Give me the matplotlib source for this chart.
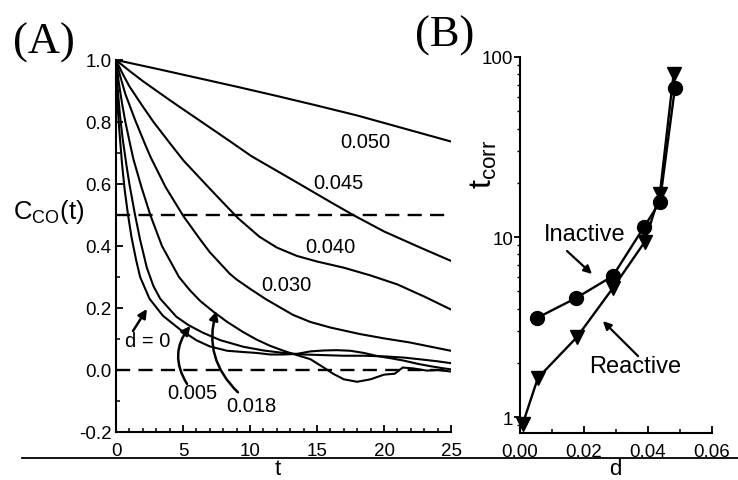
import matplotlib
matplotlib.use("Agg")
import matplotlib.pyplot as plt
from matplotlib.lines import Line2D
from matplotlib.ticker import MultipleLocator, FormatStrFormatter, LogLocator, NullFormatter, FixedLocator

plt.rcParams['font.family'] = ['Liberation Sans', 'DejaVu Sans']
plt.rcParams['axes.unicode_minus'] = False
plt.rcParams['mathtext.fontset'] = 'custom'
plt.rcParams['mathtext.rm'] = 'Liberation Sans'
plt.rcParams['mathtext.it'] = 'Liberation Sans'

# ---------------- Panel A data: C_CO(t) for several d ----------------
t_d050 = [0, 3, 6, 9, 12, 15, 18, 21, 25]
c_d050 = [1.0, 0.972, 0.943, 0.914, 0.884, 0.853, 0.821, 0.785, 0.737]

t_d045 = [0, 1, 2, 3.8, 4.7, 6.3, 8.5, 10.1, 13.7, 16, 17.7, 20, 22.7, 25]
c_d045 = [1.0, 0.965, 0.932, 0.877, 0.85, 0.803, 0.738, 0.69, 0.6, 0.542, 0.5, 0.447, 0.395, 0.352]

t_d040 = [0, 0.5, 1, 2, 2.8, 4.05, 5.05, 7.0, 8.1, 9.1, 10.7, 12, 13.5, 15, 17, 19, 21, 23, 25]
c_d040 = [1.0, 0.955, 0.915, 0.85, 0.8, 0.73, 0.675, 0.585, 0.535, 0.49, 0.43, 0.395, 0.368,
          0.35, 0.33, 0.305, 0.276, 0.237, 0.195]

t_d030 = [0, 0.3, 0.7, 1.44, 2.2, 2.6, 3.7, 5.05, 6.3, 7.0, 8.5, 9.0, 10, 11.2, 13.2, 14.5, 16,
          18.2, 20, 21.9, 23.5, 25]
c_d030 = [1.0, 0.95, 0.89, 0.805, 0.725, 0.685, 0.59, 0.495, 0.42, 0.38, 0.31, 0.292, 0.262,
          0.228, 0.178, 0.155, 0.137, 0.116, 0.102, 0.089, 0.075, 0.062]

t_d018 = [0, 0.2, 0.45, 0.7, 1.07, 1.3, 1.9, 2.56, 3.43, 4.7, 5.5, 6.3, 7.3, 8.3, 9.5, 10.5, 11.5,
          12.5, 13.2, 14.5, 15.5, 16.2, 17, 18, 19, 20, 20.8, 21.4, 22.2, 23.2, 24, 25]
c_d018 = [1.0, 0.93, 0.86, 0.8, 0.725, 0.68, 0.59, 0.5, 0.4, 0.3, 0.258, 0.222, 0.187, 0.155,
          0.122, 0.098, 0.078, 0.062, 0.052, 0.035, 0.008, -0.012, -0.03, -0.038, -0.03,
          -0.015, -0.012, 0.008, 0.005, -0.002, 0.0, -0.005]

t_d005 = [0, 0.1, 0.3, 0.5, 0.8, 1.0, 1.4, 1.8, 2.3, 2.8, 3.3, 4.5, 5.4, 6.5, 7.8, 9.5, 11,
          12.5, 14, 15.5, 17, 18.5, 20, 21.5, 23, 24, 25]
c_d005 = [1.0, 0.92, 0.82, 0.745, 0.655, 0.6, 0.505, 0.42, 0.33, 0.27, 0.23, 0.172, 0.145, 0.12,
          0.096, 0.075, 0.063, 0.055, 0.05, 0.048, 0.046, 0.046, 0.044, 0.04, 0.033, 0.028, 0.022]

t_d000 = [0, 0.05, 0.2, 0.3, 0.45, 0.65, 0.9, 1.15, 1.5, 1.8, 2.5, 3.5, 4.8, 6.0, 7.0, 8.3,
          9.5, 10.5, 11.5, 12.5, 13.5, 14.5, 15.5, 16.5, 17.5, 18.5, 19.5, 20.5, 21.5, 22.5,
          23.5, 24.5, 25]
c_d000 = [1.0, 0.9, 0.8, 0.745, 0.665, 0.58, 0.5, 0.43, 0.355, 0.3, 0.23, 0.175, 0.13, 0.096,
          0.076, 0.062, 0.058, 0.055, 0.05, 0.05, 0.052, 0.06, 0.063, 0.064, 0.062, 0.055, 0.045,
          0.038, 0.03, 0.02, 0.012, 0.005, 0.002]

ref_levels = [0.5, 0.0]

curve_labels = ["0.050", "0.045", "0.040", "0.030"]
curve_label_pos = [(18.6, 0.738), (16.6, 0.606), (16.0, 0.397), (12.7, 0.277)]

# ---------------- Panel B data: t_corr vs d ----------------
d_inactive = [0.0053, 0.0175, 0.029, 0.0388, 0.0437, 0.0484]
t_inactive = [3.55, 4.58, 6.07, 11.4, 15.6, 67.0]
d_reactive = [0.0008, 0.0056, 0.0178, 0.029, 0.039, 0.0437, 0.048]
t_reactive = [0.91, 1.65, 2.78, 5.2, 9.4, 17.3, 80.5]

W, H = 738, 481
fig = plt.figure(figsize=(W / 100, H / 100), dpi=100)

# ================= Panel A =================
ax = fig.add_axes([116 / W, (H - 433) / H, 335 / W, 372 / H])
lw = 1.5
for tt, cc in [(t_d050, c_d050), (t_d045, c_d045), (t_d040, c_d040), (t_d030, c_d030),
               (t_d018, c_d018), (t_d005, c_d005), (t_d000, c_d000)]:
    ax.plot(tt, cc, color='black', lw=lw, solid_joinstyle='round')
for lev in ref_levels:
    ax.plot([0, 25], [lev, lev], color='black', lw=1.7, dashes=(6, 3.5))

ax.set_xlim(0, 25)
ax.set_ylim(-0.2, 1.0)
for s in ['top', 'right']:
    ax.spines[s].set_visible(False)
for s in ['left', 'bottom']:
    ax.spines[s].set_linewidth(1.5)
ax.xaxis.set_major_locator(MultipleLocator(5))
ax.xaxis.set_minor_locator(MultipleLocator(1))
ax.yaxis.set_major_locator(MultipleLocator(0.2))
ax.yaxis.set_minor_locator(MultipleLocator(0.1))
ax.yaxis.set_major_formatter(FormatStrFormatter('%.1f'))
ax.tick_params(which='major', direction='in', length=5, width=1.3, labelsize=13.5)
ax.tick_params(which='minor', direction='in', length=3, width=1.1)
ax.tick_params(axis='x', pad=7)
ax.tick_params(axis='y', pad=3)

for lab, (x, y) in zip(curve_labels, curve_label_pos):
    ax.text(x, y, lab, fontsize=14.5, ha='center', va='center')

ax.text(2.35, 0.094, "d = 0", fontsize=14.5, ha='center', va='center')
ax.annotate("", xy=(2.31, 0.197), xytext=(1.27, 0.126),
            arrowprops=dict(arrowstyle='-|>', lw=1.8, color='black', mutation_scale=13,
                            shrinkA=0, shrinkB=0))
ax.text(5.7, -0.074, "0.005", fontsize=14.5, ha='center', va='center')
ax.annotate("", xy=(5.55, 0.142), xytext=(5.3, -0.045),
            arrowprops=dict(arrowstyle='-|>', lw=1.8, color='black', mutation_scale=13,
                            shrinkA=0, shrinkB=0, connectionstyle='arc3,rad=-0.35'))
ax.text(10.1, -0.116, "0.018", fontsize=14.5, ha='center', va='center')
ax.annotate("", xy=(7.5, 0.19), xytext=(9.1, -0.072),
            arrowprops=dict(arrowstyle='-|>', lw=1.8, color='black', mutation_scale=13,
                            shrinkA=0, shrinkB=0, connectionstyle='arc3,rad=-0.3'))

fig.text(13 / W, 1 - 212 / H, r'$\mathregular{C_{CO}(t)}$', fontsize=18.5, ha='left', va='center')
fig.text(13 / W, 1 - 43 / H, "(A)", fontsize=32, family='Liberation Serif', ha='left', va='center')

# ================= Panel B =================
bx = fig.add_axes([520 / W, (H - 434) / H, 192 / W, 376 / H])
bx.set_yscale('log')
bx.plot(d_reactive, t_reactive, color='black', lw=1.7, marker='v', markersize=10, clip_on=False)
bx.plot(d_inactive, t_inactive, color='black', lw=1.7, marker='o', markersize=10, clip_on=False)
bx.set_xlim(0, 0.06)
bx.set_ylim(0.815, 100)
for s in ['top', 'right']:
    bx.spines[s].set_visible(False)
for s in ['left', 'bottom']:
    bx.spines[s].set_linewidth(1.5)
bx.xaxis.set_major_locator(MultipleLocator(0.02))
bx.xaxis.set_minor_locator(MultipleLocator(0.01))
bx.xaxis.set_major_formatter(FormatStrFormatter('%.2f'))
bx.yaxis.set_major_locator(FixedLocator([1, 10, 100]))
bx.yaxis.set_major_formatter(FormatStrFormatter('%d'))
bx.yaxis.set_minor_locator(LogLocator(base=10, subs=range(2, 10)))
bx.yaxis.set_minor_formatter(NullFormatter())
bx.tick_params(axis='x', which='major', direction='in', length=5, width=1.3, labelsize=13.5, pad=7)
bx.tick_params(axis='x', which='minor', direction='in', length=3, width=1.1)
bx.tick_params(axis='y', which='major', direction='out', length=4, width=1.3, labelsize=13.5, pad=1)
bx.tick_params(axis='y', which='minor', direction='out', length=2.5, width=1.0)

bx.text(0.0203, 10.4, "Inactive", fontsize=17, ha='center', va='center')
bx.annotate("", xy=(0.0225, 6.23), xytext=(0.0147, 8.36),
            arrowprops=dict(arrowstyle='-|>', lw=1.6, color='black', mutation_scale=12,
                            shrinkA=0, shrinkB=0))
bx.text(0.0359, 1.92, "Reactive", fontsize=17, ha='center', va='center')
bx.annotate("", xy=(0.0259, 3.41), xytext=(0.0369, 2.18),
            arrowprops=dict(arrowstyle='-|>', lw=1.6, color='black', mutation_scale=12,
                            shrinkA=0, shrinkB=0))

fig.text(484 / W, 1 - 164 / H, r'$\mathregular{t_{corr}}$', fontsize=23, rotation=90,
         ha='center', va='center')
fig.text(415 / W, 1 - 36 / H, "(B)", fontsize=32, family='Liberation Serif', ha='left', va='center')

# separator rule and axis titles below it
fig.add_artist(Line2D([22 / W, 1.0], [1 - 459 / H, 1 - 459 / H], color='black', lw=1.3))
fig.text(278 / W, 1 - 475 / H, "t", fontsize=16, ha='center', va='baseline')
fig.text(615 / W, 1 - 475 / H, "d", fontsize=16, ha='center', va='baseline')

fig.savefig("out.png", dpi=100)
